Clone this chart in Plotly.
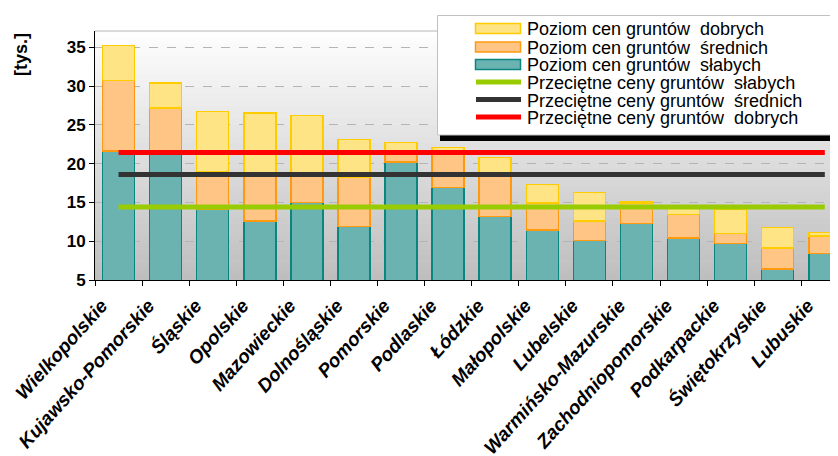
import plotly.graph_objects as go

# dane: poziomy cen gruntów [tys. zł/ha]
wojewodztwa = ["Wielkopolskie", "Kujawsko-Pomorskie", "Śląskie", "Opolskie",
               "Mazowieckie", "Dolnośląskie", "Pomorskie", "Podlaskie",
               "Łódzkie", "Małopolskie", "Lubelskie", "Warmińsko-Mazurskie",
               "Zachodniopomorskie", "Podkarpackie", "Świętokrzyskie", "Lubuskie"]
grunty_slabe = [21.6, 21.3, 14.1, 12.6, 15.0, 11.9, 20.2, 16.9,
                13.2, 11.45, 10.1, 12.3, 10.4, 9.7, 6.45, 8.4]
grunty_srednie = [30.7, 27.2, 19.0, 18.4, 18.4, 18.3, 21.5, 21.6,
                  18.6, 14.9, 12.6, 14.9, 13.45, 11.0, 9.1, 10.65]
grunty_dobre = [35.2, 30.4, 26.7, 26.5, 26.2, 23.1, 22.75, 22.1,
                20.8, 17.3, 16.3, 15.1, 14.2, 14.1, 11.75, 11.1]
srednia_slabe = 14.4
srednia_srednie = 18.6
srednia_dobre = 21.45

FONT = "Liberation Sans, Arial, sans-serif"
# strona ma domyślny margines 8 px, więc figura jest o tyle mniejsza
OFF = 8
W, H = 838 - OFF, 456 - OFF
L, R, T, B = 95 - OFF, 0, 31 - OFF, 176

TEAL, TEAL_FILL = "#0a8580", "#6ab3b0"
ORANGE, ORANGE_FILL = "#ff9a10", "#ffc585"
YELLOW, YELLOW_FILL = "#ffcc00", "#ffe485"

przyrost_srednie = [s - l for s, l in zip(grunty_srednie, grunty_slabe)]
przyrost_dobre = [d - s for d, s in zip(grunty_dobre, grunty_srednie)]

fig = go.Figure()

fig.add_trace(go.Bar(x=wojewodztwa, y=grunty_slabe, name="Poziom cen gruntów słabych",
                     marker=dict(color=TEAL_FILL, line=dict(color=TEAL, width=1.5))))
fig.add_trace(go.Bar(x=wojewodztwa, y=przyrost_srednie, name="Poziom cen gruntów średnich",
                     marker=dict(color=ORANGE_FILL, line=dict(color=ORANGE, width=1.5))))
fig.add_trace(go.Bar(x=wojewodztwa, y=przyrost_dobre, name="Poziom cen gruntów dobrych",
                     marker=dict(color=YELLOW_FILL, line=dict(color=YELLOW, width=1.5))))

for val, col, nm in [(srednia_slabe, "#99cc00", "Przeciętne ceny gruntów słabych"),
                     (srednia_srednie, "#333333", "Przeciętne ceny gruntów średnich"),
                     (srednia_dobre, "#ff0000", "Przeciętne ceny gruntów dobrych")]:
    fig.add_trace(go.Scatter(x=wojewodztwa, y=[val] * len(wojewodztwa), mode="lines",
                             name=nm, line=dict(color=col, width=5)))

# tło obszaru wykresu - gradient od białego do szarego
shapes = []
n = 40
for i in range(n):
    c = int(255 - (255 - 190) * (i + 0.5) / n)
    shapes.append(dict(type="rect", xref="x domain", yref="y domain", layer="below",
                       x0=0, x1=1, y0=1 - (i + 1) / n - 0.002, y1=1 - i / n,
                       fillcolor=f"rgb({c},{c},{c})", line=dict(width=0)))
shapes.append(dict(type="line", xref="x domain", yref="y domain", x0=0, x1=1, y0=1, y1=1,
                   line=dict(color="#b4b4b4", width=1)))


# legenda rysowana ręcznie (piksele obrazu -> paper)
def px(x):
    return (x - OFF - L) / (W - L - R)


def py(y):
    return (H - B - (y - OFF)) / (H - T - B)


shapes.append(dict(type="rect", xref="paper", yref="paper", x0=px(440), x1=px(845),
                   y0=py(141), y1=py(134), fillcolor="black", line=dict(width=0)))
shapes.append(dict(type="rect", xref="paper", yref="paper", x0=px(437.5), x1=px(850),
                   y0=py(135), y1=py(15.5), fillcolor="white",
                   line=dict(color="#c0c0c0", width=1)))

legenda = [
    ("rect", YELLOW_FILL, YELLOW, 28.5, "Poziom cen gruntów\u00a0 dobrych"),
    ("rect", ORANGE_FILL, ORANGE, 47, "Poziom cen gruntów\u00a0 średnich"),
    ("rect", TEAL_FILL, TEAL, 64.5, "Poziom cen gruntów\u00a0 słabych"),
    ("line", None, "#99cc00", 82, "Przeciętne ceny gruntów\u00a0 słabych"),
    ("line", None, "#333333", 99.5, "Przeciętne ceny gruntów\u00a0 średnich"),
    ("line", None, "#ff0000", 117, "Przeciętne ceny gruntów\u00a0 dobrych"),
]
annotations = []
for kind, fill, col, yc, txt in legenda:
    if kind == "rect":
        shapes.append(dict(type="rect", xref="paper", yref="paper", x0=px(475.5), x1=px(520.5),
                           y0=py(yc + 5), y1=py(yc - 5), fillcolor=fill,
                           line=dict(color=col, width=1.5)))
    else:
        shapes.append(dict(type="line", xref="paper", yref="paper", x0=px(476), x1=px(521),
                           y0=py(yc), y1=py(yc), line=dict(color=col, width=5)))
    annotations.append(dict(xref="paper", yref="paper", x=px(525), y=py(yc + 1), text=txt,
                            showarrow=False, xanchor="left", yanchor="middle",
                            font=dict(family=FONT, size=18, color="black")))

annotations.append(dict(xref="paper", yref="paper", x=px(21), y=py(55), text="[tys.]",
                        textangle=-90, showarrow=False, xanchor="center", yanchor="middle",
                        font=dict(family=FONT, size=18, color="black", weight="bold")))

fig.update_layout(
    width=W, height=H,
    margin=dict(l=L, r=R, t=T, b=B),
    barmode="stack", bargap=0.32,
    paper_bgcolor="white", plot_bgcolor="white",
    showlegend=False,
    shapes=shapes, annotations=annotations,
    font=dict(family=FONT, color="black"),
)
fig.update_xaxes(range=[-0.5, 15.28], showline=True, linecolor="black", linewidth=1,
                 ticks="outside", tickson="boundaries", ticklen=5, tickcolor="black",
                 tickangle=-48, showgrid=False, ticklabelstandoff=6, ticklabelshift=-17,
                 automargin=False,
                 tickfont=dict(family=FONT, size=19, weight="bold", style="italic"))
fig.update_yaxes(range=[5, 37.1], tickvals=[5, 10, 15, 20, 25, 30, 35],
                 showline=True, linecolor="black", linewidth=1,
                 ticks="outside", ticklen=5, tickcolor="black",
                 showgrid=True, gridcolor="#b4b4b4", griddash="dash", gridwidth=1,
                 zeroline=False, automargin=False,
                 tickfont=dict(family=FONT, size=17, weight="bold"))

fig.write_html("out.html")
